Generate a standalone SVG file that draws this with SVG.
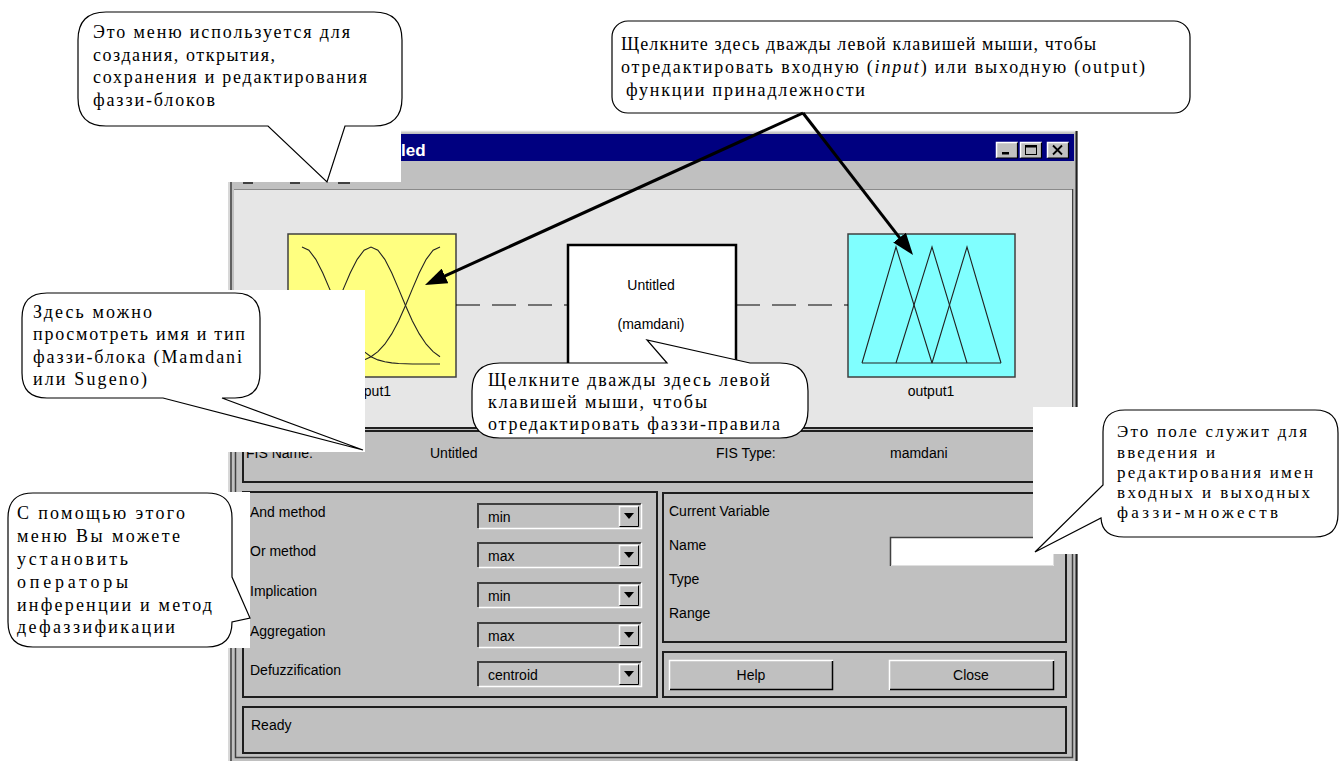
<svg xmlns="http://www.w3.org/2000/svg" width="1341" height="761" viewBox="0 0 1341 761">
<style>
.cb{font-family:"Liberation Serif","Times New Roman",serif;font-size:18px;fill:#000}
.cbs{font-family:"Liberation Serif","Times New Roman",serif;font-size:17px;fill:#000}
.ui{font-family:"Liberation Sans",Arial,sans-serif;font-size:14px;fill:#000}
.bub{fill:#fff;stroke:#000;stroke-width:1.2}
.wbg{fill:#fff}
.grp{fill:none;stroke:#1e1e1e;stroke-width:2}
.lt{fill:none;stroke:#fff;stroke-width:1.5}
.dk{fill:none;stroke:#000;stroke-width:1.5}
.sk{fill:none;stroke:#404040;stroke-width:2}
.mf{fill:none;stroke:#222;stroke-width:1.1}
.arr{stroke:#000;stroke-width:3;fill:none;marker-end:url(#ah)}
.dash{stroke:#000;stroke-width:1;stroke-dasharray:24 12}
</style>
<defs>
<marker id="ah" markerUnits="userSpaceOnUse" markerWidth="22" markerHeight="16" viewBox="0 0 22 16" refX="12" refY="8" orient="auto"><path d="M0,0 L22,8 L0,16 Z" fill="#000"/></marker>
</defs>
<rect width="1341" height="761" fill="#fff"/>

<g id="fis-window">
  <rect x="228" y="131" width="850" height="630" fill="#c0c0c0"/>
  <path d="M229,761 V131.5 H1077" fill="none" stroke="#dfdfdf" stroke-width="1.5"/>
  <path d="M231,761 V133" fill="none" stroke="#404040" stroke-width="1.5"/>
  <path d="M235.5,189 V757.5 H1072.5 V189" fill="none" stroke="#404040" stroke-width="1.5"/>
  <path d="M1076.5,131 V761" fill="none" stroke="#202020" stroke-width="2"/>
  <rect x="231" y="134" width="843" height="27" fill="#000080"/>
  <text x="401" y="156" font-family="Liberation Sans, Arial, sans-serif" font-size="17" font-weight="bold" fill="#fff">led</text>
  <!-- title buttons -->
  <g>
    <rect x="996" y="142" width="22" height="16" fill="#c0c0c0"/>
    <path d="M996.5,158 V142.5 H1018" class="lt" stroke-width="1"/>
    <path d="M996.5,158 H1017.5 V142.5" fill="none" stroke="#000" stroke-width="1.2"/>
    <rect x="1002" y="152" width="7" height="2.5" fill="#000"/>
    <rect x="1020" y="142" width="22" height="16" fill="#c0c0c0"/>
    <path d="M1020.5,158 V142.5 H1042" class="lt" stroke-width="1"/>
    <path d="M1020.5,158 H1041.5 V142.5" fill="none" stroke="#000" stroke-width="1.2"/>
    <rect x="1025.5" y="145.5" width="11" height="9" fill="none" stroke="#000" stroke-width="1"/>
    <rect x="1025.5" y="145.5" width="11" height="2" fill="#000"/>
    <rect x="1047" y="142" width="22" height="16" fill="#c0c0c0"/>
    <path d="M1047.5,158 V142.5 H1069" class="lt" stroke-width="1"/>
    <path d="M1047.5,158 H1068.5 V142.5" fill="none" stroke="#000" stroke-width="1.2"/>
    <path d="M1053,145.5 L1062,154.5 M1062,145.5 L1053,154.5" stroke="#000" stroke-width="1.8"/>
  </g>
  <!-- menu remnants -->
  <rect x="243" y="182" width="10" height="2" fill="#404040"/>
  <rect x="290" y="182" width="10" height="2" fill="#404040"/>
  <rect x="338" y="182" width="12" height="2" fill="#404040"/>
  <!-- light diagram area -->
  <rect x="234" y="189" width="838" height="239" fill="#e6e6e6"/>
  <path d="M234,189.5 H1072" stroke="#8a8a8a" stroke-width="1"/>
  <path d="M234,428 H1072" stroke="#202020" stroke-width="2"/>

  <!-- FIS name panel -->
  <rect x="243" y="431" width="823" height="51" class="grp"/>
  <text class="ui" x="246" y="458">FIS Name:</text>
  <text class="ui" x="430" y="458">Untitled</text>
  <text class="ui" x="716" y="458">FIS Type:</text>
  <text class="ui" x="890" y="458">mamdani</text>

  <!-- methods panel -->
  <rect x="243" y="492" width="414" height="205" class="grp"/>
  <text class="ui" x="250" y="517">And method</text>
  <text class="ui" x="250" y="556">Or method</text>
  <text class="ui" x="250" y="596">Implication</text>
  <text class="ui" x="250" y="636">Aggregation</text>
  <text class="ui" x="250" y="675">Defuzzification</text>
  <g id="dd-and">
    <rect x="478" y="503" width="163" height="26" fill="#c0c0c0"/>
    <path d="M478,528 V504 H641" class="sk"/><path d="M479,528.5 H641.5 V504" class="lt"/>
    <rect x="619" y="506" width="20" height="21" fill="#c0c0c0"/>
    <path d="M619.5,527 V506.5 H639" class="lt" stroke-width="1"/><path d="M619.5,526.5 H638.5 V506.5" fill="none" stroke="#000"/>
    <path d="M624,513 H634 L629,519 Z" fill="#000"/>
    <text class="ui" x="488" y="522">min</text>
  </g>
  <g id="dd-or">
    <rect x="478" y="542" width="163" height="26" fill="#c0c0c0"/>
    <path d="M478,567 V543 H641" class="sk"/><path d="M479,567.5 H641.5 V543" class="lt"/>
    <rect x="619" y="545" width="20" height="21" fill="#c0c0c0"/>
    <path d="M619.5,566 V545.5 H639" class="lt" stroke-width="1"/><path d="M619.5,565.5 H638.5 V545.5" fill="none" stroke="#000"/>
    <path d="M624,552 H634 L629,558 Z" fill="#000"/>
    <text class="ui" x="488" y="561">max</text>
  </g>
  <g id="dd-imp">
    <rect x="478" y="582" width="163" height="26" fill="#c0c0c0"/>
    <path d="M478,607 V583 H641" class="sk"/><path d="M479,607.5 H641.5 V583" class="lt"/>
    <rect x="619" y="585" width="20" height="21" fill="#c0c0c0"/>
    <path d="M619.5,606 V585.5 H639" class="lt" stroke-width="1"/><path d="M619.5,605.5 H638.5 V585.5" fill="none" stroke="#000"/>
    <path d="M624,592 H634 L629,598 Z" fill="#000"/>
    <text class="ui" x="488" y="601">min</text>
  </g>
  <g id="dd-agg">
    <rect x="478" y="622" width="163" height="26" fill="#c0c0c0"/>
    <path d="M478,647 V623 H641" class="sk"/><path d="M479,647.5 H641.5 V623" class="lt"/>
    <rect x="619" y="625" width="20" height="21" fill="#c0c0c0"/>
    <path d="M619.5,646 V625.5 H639" class="lt" stroke-width="1"/><path d="M619.5,645.5 H638.5 V625.5" fill="none" stroke="#000"/>
    <path d="M624,632 H634 L629,638 Z" fill="#000"/>
    <text class="ui" x="488" y="641">max</text>
  </g>
  <g id="dd-defuzz">
    <rect x="478" y="661" width="163" height="26" fill="#c0c0c0"/>
    <path d="M478,686 V662 H641" class="sk"/><path d="M479,686.5 H641.5 V662" class="lt"/>
    <rect x="619" y="664" width="20" height="21" fill="#c0c0c0"/>
    <path d="M619.5,685 V664.5 H639" class="lt" stroke-width="1"/><path d="M619.5,684.5 H638.5 V664.5" fill="none" stroke="#000"/>
    <path d="M624,671 H634 L629,677 Z" fill="#000"/>
    <text class="ui" x="488" y="680">centroid</text>
  </g>

  <!-- current variable panel -->
  <rect x="663" y="493" width="403" height="149" class="grp"/>
  <text class="ui" x="669" y="516">Current Variable</text>
  <text class="ui" x="669" y="550">Name</text>
  <text class="ui" x="669" y="584">Type</text>
  <text class="ui" x="669" y="618">Range</text>
  <rect x="890" y="537" width="164" height="29" fill="#fff"/>
  <path d="M890.5,566 V537.5 H1054" fill="none" stroke="#404040" stroke-width="1.5"/>
  <path d="M891,565.5 H1053.5 V538" fill="none" stroke="#dfdfdf" stroke-width="1"/>

  <!-- buttons panel -->
  <rect x="663" y="652" width="403" height="45" class="grp"/>
  <g id="btn-help">
    <rect x="669" y="660" width="164" height="30" fill="#c0c0c0"/>
    <path d="M669.5,690 V660.5 H833" fill="none" stroke="#fff" stroke-width="1.5"/>
    <path d="M670,689.5 H832.5 V661" fill="none" stroke="#000" stroke-width="1.5"/>
    <text class="ui" x="751" y="680" text-anchor="middle">Help</text>
  </g>
  <g id="btn-close">
    <rect x="889" y="660" width="165" height="30" fill="#c0c0c0"/>
    <path d="M889.5,690 V660.5 H1054" fill="none" stroke="#fff" stroke-width="1.5"/>
    <path d="M890,689.5 H1053.5 V661" fill="none" stroke="#000" stroke-width="1.5"/>
    <text class="ui" x="971" y="680" text-anchor="middle">Close</text>
  </g>

  <!-- status panel -->
  <rect x="243" y="707" width="823" height="46" class="grp"/>
  <text class="ui" x="251" y="730">Ready</text>
</g>

<g id="node-input1">
  <rect x="288" y="234" width="168" height="143" fill="#ffff80" stroke="#404040" stroke-width="1.5"/>
  <polyline class="mf" points="302,247 308.9,250.2 315.8,259.3 322.7,272.8 329.6,288.9 336.5,305.5 343.4,320.9 350.3,333.9 357.2,344.2 364.1,351.6 371,356.7 377.9,359.9 384.8,361.8 391.7,362.9 398.6,363.5 405.5,363.8 412.4,364 440,364"/>
  <polyline class="mf" points="302,356.7 308.9,351.6 315.8,344.2 322.7,333.9 329.6,320.9 336.5,305.5 343.4,288.9 350.3,272.8 357.2,259.3 364.1,250.2 371,247 377.9,250.2 384.8,259.3 391.7,272.8 398.6,288.9 405.5,305.5 412.4,320.9 419.3,333.9 426.2,344.2 433.1,351.6 440,356.7"/>
  <polyline class="mf" points="440,247 433.1,250.2 426.2,259.3 419.3,272.8 412.4,288.9 405.5,305.5 398.6,320.9 391.7,333.9 384.8,344.2 377.9,351.6 371,356.7 364.1,359.9 357.2,361.8 350.3,362.9 343.4,363.5 336.5,363.8 329.6,364 302,364"/>
  <text class="ui" x="372" y="396" text-anchor="middle">input1</text>
</g>

<g id="node-rules">
  <rect x="568" y="245" width="168" height="155" fill="#fff" stroke="#000" stroke-width="2.5"/>
  <text class="ui" x="651" y="290" text-anchor="middle">Untitled</text>
  <text class="ui" x="651" y="329" text-anchor="middle">(mamdani)</text>
</g>

<g id="node-output1">
  <rect x="848" y="234" width="167" height="143" fill="#80ffff" stroke="#404040" stroke-width="1.5"/>
  <polyline class="mf" points="862,363 896,247 932,363"/>
  <polyline class="mf" points="896,363 932,247 967,363"/>
  <polyline class="mf" points="932,363 967,247 1001,363"/>
  <path d="M862,363 H1001" class="mf"/>
  <text class="ui" x="931" y="396" text-anchor="middle">output1</text>
</g>

<g id="connectors-dashed">
  <path class="dash" d="M456,305 H568"/>
  <path class="dash" d="M736,305 H848"/>
</g>

<g id="callout-menu">
  <rect class="wbg" x="60" y="0" width="341" height="182"/>
  <path class="bub" d="M106,12 H374 Q402,12 402,40 V98 Q402,126 374,126 H345 L327,182 L268,126 H106 Q78,126 78,98 V40 Q78,12 106,12 Z"/>
  <text class="cb" x="93" y="38" textLength="257" lengthAdjust="spacing">Это меню используется для</text>
  <text class="cb" x="93" y="60.5" textLength="182" lengthAdjust="spacing">создания, открытия,</text>
  <text class="cb" x="93" y="83" textLength="274" lengthAdjust="spacing">сохранения и редактирования</text>
  <text class="cb" x="93" y="105.5" textLength="122" lengthAdjust="spacing">фаззи-блоков</text>
</g>

<g id="callout-mf">
  <rect class="bub" x="612" y="21" width="578" height="92" rx="16" ry="16"/>
  <text class="cb" x="621" y="50" textLength="475" lengthAdjust="spacing">Щелкните здесь дважды левой клавишей мыши, чтобы</text>
  <text class="cb" x="621" y="73" textLength="524" lengthAdjust="spacing">отредактировать входную (<tspan font-style="italic">input</tspan>) или выходную (output)</text>
  <text class="cb" x="626" y="96" textLength="239" lengthAdjust="spacing">функции принадлежности</text>
</g>

<g id="callout-type">
  <rect class="wbg" x="0" y="290" width="365" height="162"/>
  <path class="bub" d="M47,293 H235 Q260,293 260,318 V373 Q260,398 235,398 H222 L363,450 L163,398 H47 Q22,398 22,373 V318 Q22,293 47,293 Z"/>
  <text class="cb" x="33" y="317.5" textLength="119" lengthAdjust="spacing">Здесь можно</text>
  <text class="cb" x="33" y="340" textLength="212" lengthAdjust="spacing">просмотреть имя и тип</text>
  <text class="cb" x="33" y="362.5" textLength="209" lengthAdjust="spacing">фаззи-блока (Mamdani</text>
  <text class="cb" x="33" y="385" textLength="114" lengthAdjust="spacing">или Sugeno)</text>
</g>

<g id="callout-rules">
  <path class="bub" d="M500,363 H667 L647,340 L750,363 H780 Q808,363 808,391 V410 Q808,438 780,438 H500 Q472,438 472,410 V391 Q472,363 500,363 Z"/>
  <text class="cb" x="488" y="386" textLength="282" lengthAdjust="spacing">Щелкните дважды здесь левой</text>
  <text class="cb" x="488" y="408" textLength="219" lengthAdjust="spacing">клавишей мыши, чтобы</text>
  <text class="cb" x="488" y="430" textLength="292" lengthAdjust="spacing">отредактировать фаззи-правила</text>
</g>

<g id="callout-methods">
  <rect class="wbg" x="0" y="492" width="250" height="156"/>
  <path class="bub" d="M33,493 H207 Q232,493 232,518 V577 L250,618 L232,622 Q232,647 207,647 H33 Q8,647 8,622 V518 Q8,493 33,493 Z"/>
  <text class="cb" x="17" y="519" textLength="168" lengthAdjust="spacing">С помощью этого</text>
  <text class="cb" x="17" y="542" textLength="163" lengthAdjust="spacing">меню Вы можете</text>
  <text class="cb" x="17" y="565" textLength="111" lengthAdjust="spacing">установить</text>
  <text class="cb" x="17" y="588" textLength="111" lengthAdjust="spacing">операторы</text>
  <text class="cb" x="17" y="610.5" textLength="195" lengthAdjust="spacing">инференции и метод</text>
  <text class="cb" x="17" y="632.5" textLength="158" lengthAdjust="spacing">дефаззификации</text>
</g>

<g id="callout-name">
  <rect class="wbg" x="1033" y="407" width="308" height="147"/>
  <path class="bub" d="M1125,410 H1315 Q1338,410 1338,433 V514 Q1338,537 1315,537 H1124 Q1102,537 1101,518 L1035,552 L1103,485 V432 Q1103,410 1125,410 Z"/>
  <text class="cbs" x="1117" y="437" textLength="190" lengthAdjust="spacing">Это поле служит для</text>
  <text class="cbs" x="1117" y="457.5" textLength="98" lengthAdjust="spacing">введения и</text>
  <text class="cbs" x="1117" y="477.5" textLength="196" lengthAdjust="spacing">редактирования имен</text>
  <text class="cbs" x="1117" y="498" textLength="193" lengthAdjust="spacing">входных и выходных</text>
  <text class="cbs" x="1117" y="518" textLength="161" lengthAdjust="spacing">фаззи-множеств</text>
</g>

<g id="connectors">
  <path class="arr" d="M803,113 L434.1,280.9"/>
  <path class="arr" d="M803,113 L906.9,247.1"/>
</g>
</svg>
